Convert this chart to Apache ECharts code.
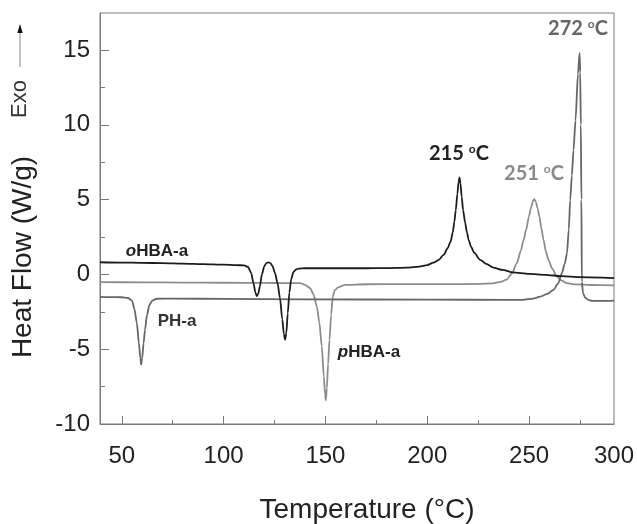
<!DOCTYPE html>
<html>
<head>
<meta charset="utf-8">
<script src="https://cdn.jsdelivr.net/npm/echarts@6/dist/echarts.min.js"></script>
<style>
html,body{margin:0;padding:0;background:#fff;}
#c{width:637px;height:524px;}
</style>
</head>
<body>
<div id="c"></div>
<script>
// ---- data (temperature °C, heat flow W/g) ----
const oHBA_T = [39.3,50,60,70,80,90,100,106,110,112,113.5,114.7,115.6,116.3,117,117.8,118.8,120,121,122,123,124,125.2,126.5,127.7,128.8,129.6,130.2,130.8,131.5,132.3,133.2,134.3,135.5,137,140,150,160,170,180,190,196,200,203,205.5,208,210,211.5,212.5,213.3,214,214.8,215.4,215.8,216.3,216.9,217.6,218.6,219.5,220.3,221.5,223,226,229,232.5,237,242,250,258,266,275,291.7];
const oHBA_V = [0.81,0.79,0.77,0.75,0.72,0.69,0.65,0.62,0.6,0.5,0.1,-0.6,-1.2,-1.45,-1.3,-0.8,0.0,0.55,0.75,0.8,0.75,0.55,0.1,-0.6,-1.6,-3.0,-4.0,-4.37,-3.9,-2.6,-1.2,-0.3,0.15,0.33,0.39,0.41,0.41,0.41,0.41,0.42,0.45,0.52,0.62,0.78,0.95,1.3,1.75,2.2,2.8,3.5,4.3,5.4,6.2,6.48,6.1,5.2,4.3,3.45,2.8,2.3,1.85,1.45,0.97,0.7,0.45,0.3,0.13,0.03,-0.03,-0.12,-0.19,-0.25];

const pHBA_T = [39.3,60,80,100,120,130,137.6,140,142.5,144.2,145.8,147,148.2,149.2,149.8,150.2,150.7,151.3,152,152.8,153.6,154.6,156.4,159.7,170,190,210,225,232,236,239,241.5,244,246,247.3,248.6,249.9,251,252,252.6,253.3,254.2,255.1,256,257.1,258.2,259.5,261.3,263.6,266,268.6,273,280,291.7];
const pHBA_V = [-0.52,-0.53,-0.55,-0.56,-0.57,-0.58,-0.59,-0.7,-0.92,-1.35,-2.15,-3.2,-4.8,-6.8,-8.0,-8.41,-7.6,-6.0,-4.37,-2.7,-1.48,-1.05,-0.85,-0.7,-0.66,-0.65,-0.65,-0.64,-0.6,-0.5,-0.35,0.05,0.75,1.6,2.3,3.0,3.85,4.5,4.95,5.03,4.85,4.4,3.85,3.1,2.3,1.55,0.97,0.4,-0.15,-0.42,-0.59,-0.67,-0.71,-0.73];

const PH_T = [39.3,45,50,53,55,56.2,57.4,58.4,59.1,59.5,60,60.7,61.4,62.4,63.6,65,67.2,75,100,140,200,240,247,252,255.5,259,262,264.3,266.1,267.5,268.6,269.5,270.2,271,271.8,272.8,274,274.8,275.1,275.4,275.7,275.9,276.5,277.5,279,281,285,291.7];
const PH_V = [-1.5,-1.52,-1.53,-1.58,-1.75,-2.3,-3.25,-4.6,-5.6,-6.03,-5.6,-4.6,-3.7,-2.7,-2.03,-1.75,-1.63,-1.62,-1.64,-1.67,-1.69,-1.7,-1.7,-1.62,-1.48,-1.3,-1.03,-0.6,0.08,0.7,1.4,3.0,4.97,6.6,8.3,10.3,13.4,14.8,13.5,10.0,5.0,-0.5,-1.25,-1.55,-1.7,-1.77,-1.77,-1.75];

const xMajor = [50,100,150,200,250];
const xMinor = [75,125,175,225,275];
const xLabels = ['50','100','150','200','250','300'];
const yMajor = [-10,-5,0,5,10,15];
const yMinor = [-7.5,-2.5,2.5,7.5,12.5];

const X_MIN = 39.3, X_MAX = 291.7, Y_MIN = -10, Y_MAX = 17.47;

const zip = (a,b) => a.map((v,i)=>[v,b[i]]);
const FONT = '"Liberation Sans", Arial, sans-serif';
const AXC = '#7a7a7a';
const TXT = '#222';

const chart = echarts.init(document.getElementById('c'), null, {renderer:'canvas'});

function lineSeries(name, data, color){
  return {
    name, type:'line', data, xAxisIndex:0, yAxisIndex:0,
    showSymbol:false, symbol:'none', smooth:0.25, smoothMonotone:'x',
    lineStyle:{color, width:1.8}, animation:false, clip:true, z:3
  };
}

const xLabelVals = xMajor.concat([X_MAX]);

const option = {
  animation:false,
  backgroundColor:'#fff',
  grid:{left:100,right:23,top:13,bottom:100,show:true,borderColor:AXC,borderWidth:1,outerBoundsMode:'none',containLabel:false},
  xAxis:[
    {type:'value',min:X_MIN,max:X_MAX,position:'bottom',
     axisLine:{show:true,onZero:false,lineStyle:{color:AXC,width:1}},
     axisTick:{show:true,inside:true,length:8,customValues:xMajor,lineStyle:{color:AXC,width:1}},
     axisLabel:{show:true,customValues:xLabelVals,margin:20,color:TXT,fontSize:24,fontFamily:FONT,
       formatter:(v)=>{const i = xLabelVals.indexOf(v); return i>=0 ? xLabels[i] : '';}},
     splitLine:{show:false}},
    {type:'value',min:X_MIN,max:X_MAX,position:'bottom',offset:0,
     axisLine:{show:false,onZero:false},
     axisTick:{show:true,inside:true,length:4,customValues:xMinor,lineStyle:{color:AXC,width:1}},
     axisLabel:{show:false},splitLine:{show:false}}
  ],
  yAxis:[
    {type:'value',min:Y_MIN,max:Y_MAX,position:'left',
     axisLine:{show:true,onZero:false,lineStyle:{color:AXC,width:1}},
     axisTick:{show:true,inside:true,length:9,customValues:yMajor,lineStyle:{color:AXC,width:1}},
     axisLabel:{show:true,customValues:yMajor,margin:10,color:TXT,fontSize:24,fontFamily:FONT},
     splitLine:{show:false}},
    {type:'value',min:Y_MIN,max:Y_MAX,position:'left',offset:0,
     axisLine:{show:false,onZero:false},
     axisTick:{show:true,inside:true,length:5,customValues:yMinor,lineStyle:{color:AXC,width:1}},
     axisLabel:{show:false},splitLine:{show:false}}
  ],
  series:[
    lineSeries('pHBA-a', zip(pHBA_T,pHBA_V), '#8c8c8c'),
    lineSeries('PH-a', zip(PH_T,PH_V), '#666666'),
    lineSeries('oHBA-a', zip(oHBA_T,oHBA_V), '#1c1c1c')
  ],
  graphic:[
    // axis titles
    {type:'text', x:367, y:510, style:{text:'Temperature (°C)', font:'28px '+FONT, fill:TXT, textAlign:'center', textVerticalAlign:'middle'}},
    {type:'text', x:23, y:257, rotation:Math.PI/2, style:{text:'Heat Flow (W/g)', font:'28px '+FONT, fill:TXT, textAlign:'center', textVerticalAlign:'middle'}},
    {type:'text', x:20, y:99, rotation:Math.PI/2, style:{text:'Exo', font:'22px '+FONT, fill:'#333', textAlign:'center', textVerticalAlign:'middle'}},
    {type:'line', shape:{x1:20,y1:67,x2:20,y2:31}, style:{stroke:'#999',lineWidth:1.2}},
    {type:'polygon', shape:{points:[[20,24],[17.3,33],[22.7,33]]}, style:{fill:'#111'}},
    // curve names
    {type:'text', x:157, y:251, style:{rich:{i:{font:'italic bold 17px '+FONT, fill:'#222'}, b:{font:'bold 17px '+FONT, fill:'#222'}}, text:'{i|o}{b|HBA-a}', textAlign:'center', textVerticalAlign:'middle'}},
    {type:'text', x:177, y:321, style:{text:'PH-a', font:'bold 17px '+FONT, fill:'#333', textAlign:'center', textVerticalAlign:'middle'}},
    {type:'text', x:369, y:352, style:{rich:{i:{font:'italic bold 17px '+FONT, fill:'#222'}, b:{font:'bold 17px '+FONT, fill:'#222'}}, text:'{i|p}{b|HBA-a}', textAlign:'center', textVerticalAlign:'middle'}},
    // peak temperatures
    {type:'text', x:459, y:154, style:{rich:{n:{font:'bold 20px Lato, sans-serif', fill:'#222', lineHeight:22}, o:{font:'bold 12px Lato, sans-serif', fill:'#222', verticalAlign:'top', lineHeight:12}}, text:'{n|215 }{o|o}{n|C}', textAlign:'center', textVerticalAlign:'middle'}},
    {type:'text', x:534, y:174, style:{rich:{n:{font:'bold 20px Lato, sans-serif', fill:'#8a8a8a', lineHeight:22}, o:{font:'bold 12px Lato, sans-serif', fill:'#8a8a8a', verticalAlign:'top', lineHeight:12}}, text:'{n|251 }{o|o}{n|C}', textAlign:'center', textVerticalAlign:'middle'}},
    {type:'text', x:578, y:29, style:{rich:{n:{font:'bold 20px Lato, sans-serif', fill:'#666', lineHeight:22}, o:{font:'bold 12px Lato, sans-serif', fill:'#666', verticalAlign:'top', lineHeight:12}}, text:'{n|272 }{o|o}{n|C}', textAlign:'center', textVerticalAlign:'middle'}}
  ]
};
chart.setOption(option);
</script>
</body>
</html>
